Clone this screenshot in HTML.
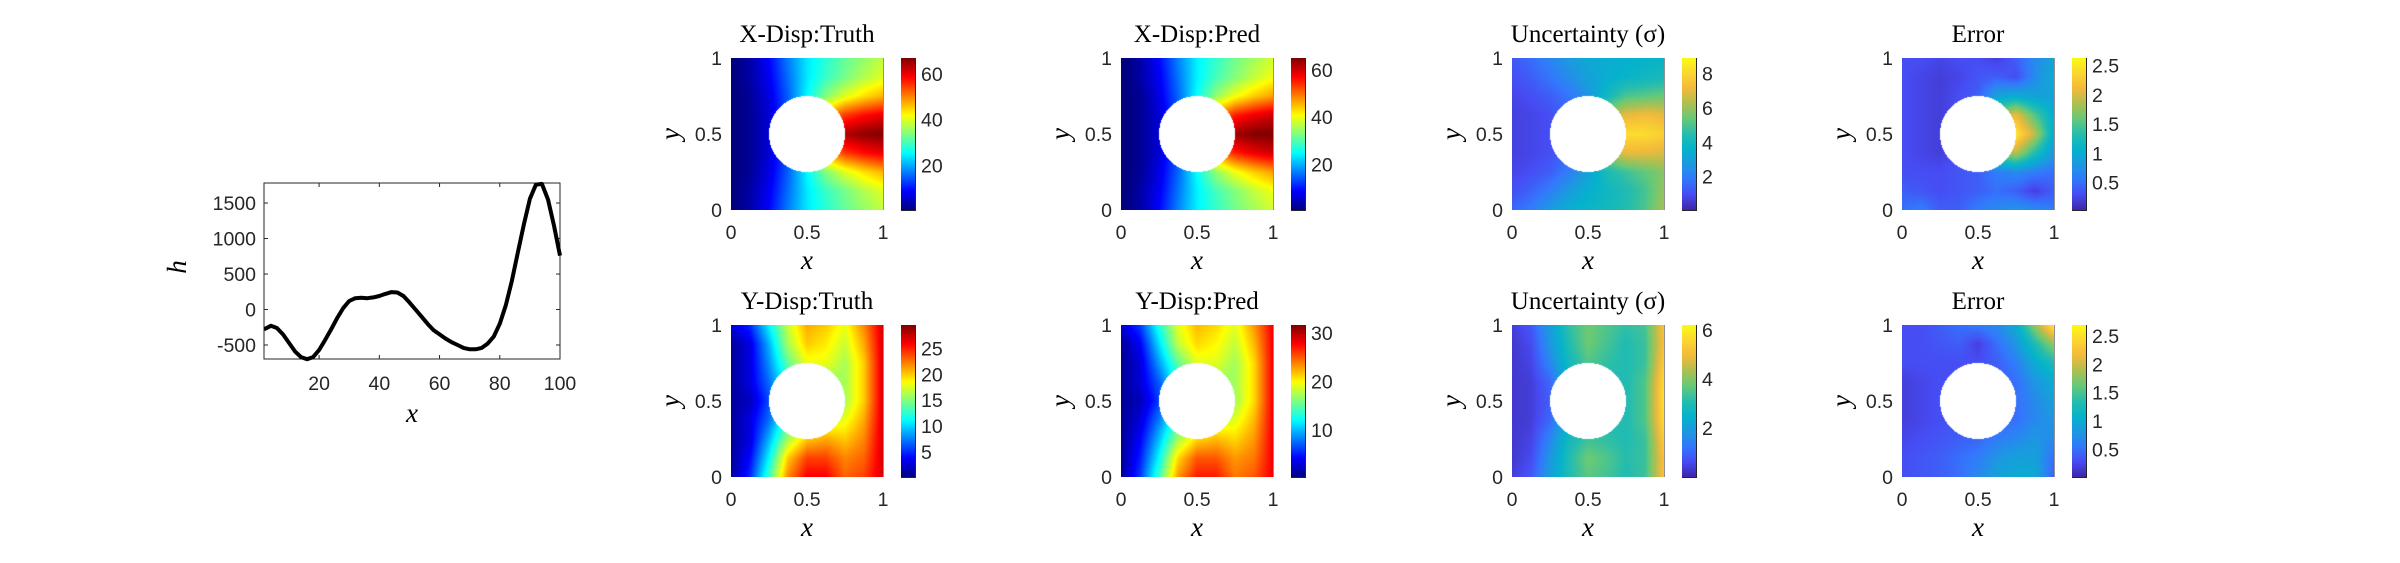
<!DOCTYPE html>
<html><head><meta charset="utf-8">
<style>
html,body{margin:0;padding:0;background:#fff;}
#wrap{position:relative;width:2400px;height:563px;overflow:hidden;}
svg{position:absolute;left:0;top:0;}
canvas{position:absolute;}
.tk{font-family:"Liberation Sans",sans-serif;font-size:19.5px;fill:#262626;}
.ttl{font-family:"Liberation Serif",serif;font-size:25px;fill:#000;}
.lab{font-family:"Liberation Serif",serif;font-style:italic;font-size:27px;fill:#000;}
</style></head>
<body>
<div id="wrap">
<svg id="svg" width="2400" height="563"></svg>
</div>
<script>
// ---- Line chart data ----
const lineX = [1.7,4,6,8,10,12,14,16,18,20,22,24,26,28,30,32,34,36,38,40,42,44,46,48,50,52,54,56,58,60,62,64,66,68,70,72,74,76,78,80,82,84,86,88,90,92,94,96,98,100];
const lineH = [-280,-230,-260,-350,-470,-590,-670,-700,-670,-570,-430,-280,-120,20,120,160,165,160,170,190,220,245,240,190,100,0,-100,-200,-290,-350,-410,-460,-500,-540,-560,-560,-540,-480,-380,-200,60,400,800,1200,1560,1760,1770,1550,1180,760];
const lineXTicks = [20,40,60,80,100];
const lineYTicks = [-500,0,500,1000,1500];

// ---- Heatmap grids (rows: y=1 top -> y=0 bottom; cols x=0 -> 1) ----
const xTruth=[[0,3,9,17,24,28,32,35,38],[0,3,8,16,24,29,33,37,40],[0,2,7,15,25,34,40,44,47],[0,2,6,14,30,48,55,58,60],[0,2,6,14,35,55,64,66,67],[0,2,6,14,30,48,55,58,60],[0,2,7,15,25,34,40,44,47],[0,3,8,16,24,29,33,37,40],[0,3,9,17,24,28,32,35,38]];
const xPred=[[0,3,9,17,24,28,32,35,38],[0,3,8,16,24,29,33,37,40],[0,2,7,15,25,34,40,44,47],[0,2,6,14,30,48,55,58,60],[0,2,6,14,35,55,63,65,65],[0,2,6,14,30,48,55,58,60],[0,2,7,15,25,34,40,44,47],[0,3,8,16,24,29,33,37,40],[0,3,9,17,24,28,32,35,38]];
const yTruth=[[3,5,11,17,21,20,18,22,27],[1,3,9,16,20,19,17,21,27],[1,3,8,14,18,18,16,20,27],[1,3,7,12,14,15,16,20,27],[1,2,6,11,13,14,16,20,27],[1,3,7,13,15,17,18,21,27],[1,3,9,16,20,21,20,22,27],[1,4,11,20,24,24,22,23,27],[1,5,13,22,26,26,23,24,27]];
const yPred=[[3,6,13,19,22,21,19,23,28],[1,4,11,18,21,20,18,22,28],[1,3,9,15,19,19,17,21,28],[1,3,7,13,15,16,17,21,28],[1,2,6,12,14,15,17,21,28],[1,3,8,14,16,18,19,22,28],[1,4,10,17,21,22,21,23,28],[1,5,12,21,25,25,23,24,28],[1,6,14,23,27,27,24,25,28]];
const uncX=[[1.2,1.6,2.2,2.8,3.2,3.4,3.5,3.6,3.7],[1,1.3,1.8,2.4,3,3.4,3.7,3.9,4.1],[0.8,1,1.3,1.8,2.6,4,5,5.2,5.4],[0.7,0.8,1,1.4,2.2,6,7,7.2,7],[0.7,0.8,1,1.4,2.2,7,8.2,8.2,7.8],[0.7,0.8,1,1.4,2.2,6,7,7,6.8],[0.8,1,1.3,2,3,4.2,4.8,5.3,5.8],[1,1.4,2,2.8,3.5,3.9,4.3,4.9,6],[1.5,2,2.8,3.5,3.8,4,4.4,5,6.2]];
const errX=[[.3,.3,.25,.3,.3,.2,.4,.7,.9],[.3,.25,.2,.25,.35,.4,.3,.7,1],[.3,.25,.2,.3,.4,.9,1,.9,.9],[.3,.25,.2,.3,.5,1.7,2.1,1.5,1],[.3,.25,.2,.3,.5,2.3,2.5,1.9,1],[.3,.25,.2,.3,.5,1.6,1.9,1.3,.8],[.3,.3,.3,.35,.4,.6,.7,.6,.5],[.4,.35,.3,.35,.4,.5,.4,.2,.4],[.5,.6,.4,.4,.6,.7,.8,.7,.6]];
const uncY=[[.4,.8,2,3.2,3.8,3.5,3.2,3.4,5.2],[.3,.6,1.8,3,3.8,3.4,3,3.3,5.2],[.3,.5,1.5,2.8,3.5,3.2,3,3.3,5.4],[.3,.4,1,2.5,3,3,3,3.5,5.7],[.3,.4,.9,2.4,3,3,3,3.5,5.8],[.3,.4,1,2.5,3,3,3,3.5,5.7],[.3,.5,1.5,2.8,3.3,3.2,3,3.3,5.4],[.3,.6,1.8,3,3.8,3.5,3.1,3.3,5.2],[.4,.8,2,3,3.6,3.4,3,3.3,5.2]];
const errY=[[.3,.3,.4,.5,.6,.7,1,1.8,2.6],[.3,.3,.35,.4,.2,.5,.8,1.3,1.8],[.3,.3,.3,.3,.3,.4,.6,1,1.3],[.2,.25,.3,.3,.3,.4,.5,.8,1],[.2,.25,.3,.3,.3,.4,.5,.7,.9],[.2,.25,.3,.35,.35,.45,.5,.7,.8],[.25,.3,.35,.4,.45,.6,.7,.8,.7],[.3,.35,.4,.5,.6,.8,.9,.9,.5],[.3,.35,.4,.5,.7,.9,1,1,.4]];

const panelTitles=["X-Disp:Truth","X-Disp:Pred","Uncertainty (σ)","Error","Y-Disp:Truth","Y-Disp:Pred","Uncertainty (σ)","Error"];
const panelGrids=[xTruth,xPred,uncX,errX,yTruth,yPred,uncY,errY];
const panelMin=[0.5,0.7,0.06,0.03,0.2,0.3,0.0,0.02];
const panelMax=[67,65,8.9,2.63,29.5,31.6,6.2,2.69];
const panelCbTicks=[[20,40,60],[20,40,60],[2,4,6,8],[0.5,1,1.5,2,2.5],[5,10,15,20,25],[10,20,30],[2,4,6],[0.5,1,1.5,2,2.5]];
const panelMaps=["jet","jet","parula","parula","jet","jet","parula","parula"];

const NS="http://www.w3.org/2000/svg";
const svg=document.getElementById('svg');
function el(tag,attrs,parent){const e=document.createElementNS(NS,tag);for(const k in attrs)e.setAttribute(k,attrs[k]);(parent||svg).appendChild(e);return e;}
function txt(s,x,y,cls,anchor,parent){const t=el('text',{x:x,y:y,'class':cls,'text-anchor':anchor||'middle'},parent);t.textContent=s;return t;}

// ---- Line chart ----
const L={x0:264,x1:560,y0:183,y1:359,xmin:1.7,xmax:100,ymin:-697,ymax:1782};
const sx=v=>L.x0+(v-L.xmin)/(L.xmax-L.xmin)*(L.x1-L.x0);
const sy=v=>L.y1-(v-L.ymin)/(L.ymax-L.ymin)*(L.y1-L.y0);
const lg=el('g',{});


for(const t of lineXTicks){
  el('line',{x1:sx(t),x2:sx(t),y1:L.y1,y2:L.y1-4,stroke:'#262626','stroke-width':1},lg);
  el('line',{x1:sx(t),x2:sx(t),y1:L.y0,y2:L.y0+4,stroke:'#262626','stroke-width':1},lg);
  const tt=txt(String(t),sx(t),390,'tk','middle',lg);
  
  
}
for(const t of lineYTicks){
  el('line',{x1:L.x0,x2:L.x0+4,y1:sy(t),y2:sy(t),stroke:'#262626','stroke-width':1},lg);
  el('line',{x1:L.x1,x2:L.x1-4,y1:sy(t),y2:sy(t),stroke:'#262626','stroke-width':1},lg);
  const tt=txt(String(t),256,sy(t)+7,'tk','end',lg);
  
  
}
const frame=el('rect',{x:L.x0,y:L.y0,width:L.x1-L.x0,height:L.y1-L.y0,fill:'none',stroke:'#262626','stroke-width':1},lg);


const clip=el('clipPath',{id:'lc'},lg);el('rect',{x:L.x0,y:L.y0-3,width:L.x1-L.x0+2,height:L.y1-L.y0+6},clip);
let d='';lineX.forEach((v,i)=>{d+=(i?'L':'M')+sx(v).toFixed(1)+','+sy(lineH[i]).toFixed(1);});
const path=el('path',{d:d,fill:'none',stroke:'#000','stroke-width':4,'stroke-linejoin':'round','clip-path':'url(#lc)'},lg);


const xl=txt('x',412,422,'lab','middle',lg);


const hl=el('text',{x:0,y:0,'class':'lab','text-anchor':'middle',transform:'translate(186,267) rotate(-90)'},lg);hl.textContent='h';



// ---- Colormaps ----
const jetStops=[[0,[0,0,0.5]],[0.125,[0,0,1]],[0.375,[0,1,1]],[0.625,[1,1,0]],[0.875,[1,0,0]],[1,[0.5,0,0]]];
const parStops=[[0,[0.2422,0.1504,0.6603]],[0.1,[0.2770,0.2960,0.9530]],[0.2,[0.2000,0.4700,0.9900]],[0.3,[0.1100,0.6000,0.8800]],[0.4,[0.0200,0.7000,0.8000]],[0.5,[0.1500,0.7400,0.6800]],[0.6,[0.4000,0.7900,0.4700]],[0.7,[0.6800,0.7500,0.3200]],[0.8,[0.9500,0.7300,0.2300]],[0.9,[0.9900,0.8400,0.1900]],[1,[0.9769,0.9839,0.0805]]];
function cmap(name,t){const s=name==='jet'?jetStops:parStops;t=Math.max(0,Math.min(1,t));
  for(let i=1;i<s.length;i++){if(t<=s[i][0]){const a=s[i-1],b=s[i],f=(t-a[0])/(b[0]-a[0]);return a[1].map((c,k)=>Math.round(255*(c+(b[1][k]-c)*f)));}}return s[s.length-1][1].map(c=>Math.round(255*c));}

// ---- Panels ----
const colX=[731,1121,1512,1902];
const rowY=[58,325];
const PW=152,PH=152;
const wrap=document.getElementById('wrap');
function sample(g,u,v){const n=g.length-1;const fx=u*n,fy=v*n;const i=Math.min(n-1,Math.floor(fy)),j=Math.min(n-1,Math.floor(fx));const a=fy-i,b=fx-j;
  return g[i][j]*(1-a)*(1-b)+g[i][j+1]*(1-a)*b+g[i+1][j]*a*(1-b)+g[i+1][j+1]*a*b;}
panelGrids.forEach((g,p)=>{
  const px=colX[p%4],py=rowY[Math.floor(p/4)];
  const grp=el('g',{});
  
  
  const cv=document.createElement('canvas');cv.width=PW;cv.height=PH;cv.style.left=px+'px';cv.style.top=py+'px';
  
  
  wrap.appendChild(cv);
  const ctx=cv.getContext('2d');const im=ctx.createImageData(PW,PH);
  const mn=panelMin[p],mx=panelMax[p];
  for(let y=0;y<PH;y++)for(let x=0;x<PW;x++){
    const u=(x+0.5)/PW,v=(y+0.5)/PH;const o=(y*PW+x)*4;
    let c;const dx=u-0.5,dy=v-0.5;
    if(dx*dx+dy*dy<0.0625)c=[255,255,255];else c=cmap(panelMaps[p],(sample(g,u,v)-mn)/(mx-mn));
    im.data[o]=c[0];im.data[o+1]=c[1];im.data[o+2]=c[2];im.data[o+3]=255;}
  ctx.putImageData(im,0,0);
  el('line',{x1:px+PW,x2:px+PW,y1:py,y2:py+PH,stroke:'#262626','stroke-width':1},grp);
  const t=txt(panelTitles[p],px+PW/2,py-16,'ttl','middle',grp);
  
  
  [[0,'0'],[0.5,'0.5'],[1,'1']].forEach(([v,s])=>{
    const a=txt(s,px+v*PW,py+PH+29,'tk','middle',grp);
    
    
    const b=txt(s,px-9,py+PH-v*PH+7,'tk','end',grp);
    
    
  });
  const xlab=txt('x',px+PW/2,py+PH+59,'lab','middle',grp);
  
  
  const ylab=el('text',{x:0,y:0,'class':'lab','text-anchor':'middle',transform:`translate(${px-52},${py+PH/2}) rotate(-90)`},grp);ylab.textContent='y';
  
  
  const cx=px+PW+18,cw=14;
  const cb=document.createElement('canvas');cb.width=cw;cb.height=PH;cb.style.left=cx+'px';cb.style.top=py+'px';
  
  
  wrap.appendChild(cb);
  const c2=cb.getContext('2d');
  for(let y=0;y<PH;y++){const c=cmap(panelMaps[p],1-(y+0.5)/PH);c2.fillStyle=`rgb(${c[0]},${c[1]},${c[2]})`;c2.fillRect(0,y,cw,1);}
  el('rect',{x:cx+0.5,y:py+0.5,width:cw,height:PH,fill:'none',stroke:'#262626','stroke-width':1},grp);
  panelCbTicks[p].forEach(v=>{
    const yy=py+PH-(v-mn)/(mx-mn)*PH;
    el('line',{x1:cx+cw-3,x2:cx+cw,y1:yy,y2:yy,stroke:'#262626','stroke-width':1},grp);
    el('line',{x1:cx,x2:cx+3,y1:yy,y2:yy,stroke:'#262626','stroke-width':1},grp);
    const l=txt(String(v),cx+cw+6,yy+7,'tk','start',grp);
    
    
  });
});
</script>
</body></html>
